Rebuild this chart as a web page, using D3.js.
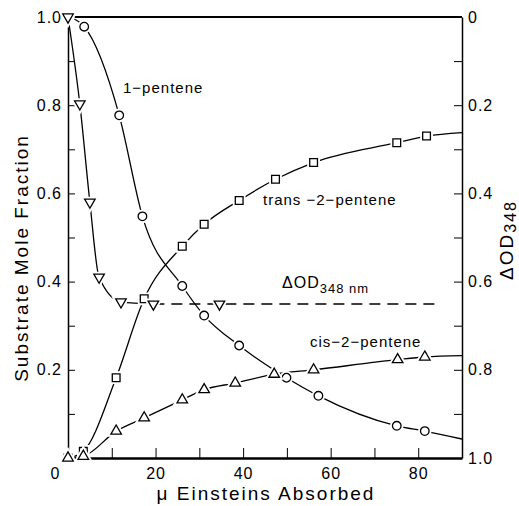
<!DOCTYPE html>
<html>
<head>
<meta charset="utf-8">
<script src="https://cdn.jsdelivr.net/npm/d3@7"></script>
<style>
  body { margin: 0; background: #fff; }
  svg { display: block; font-family: "Liberation Sans", Arial, sans-serif; }
  .axis path, .axis line { stroke: #000; }
  .axis text { font-size: 16px; fill: #000; letter-spacing: 1px; }
</style>
</head>
<body>
<svg id="chart" width="519" height="506"></svg>
<script>
// values (x = μ Einsteins absorbed)
const pentene1X = [0, 3.7, 11.7, 17.0, 26.1, 31.1, 39.1, 49.9, 57.2, 75.1, 81.5]
const pentene1Y = [1.0, 0.978, 0.777, 0.548, 0.39, 0.323, 0.255, 0.182, 0.141, 0.073, 0.061]
const pentene1End = [90, 0.043]

const transX = [0, 3.5, 11.0, 17.4, 26.1, 31.1, 39.1, 47.4, 56.1, 75.1, 81.9]
const transY = [0, 0.015, 0.182, 0.361, 0.48, 0.53, 0.584, 0.632, 0.67, 0.715, 0.73]
const transEnd = [90, 0.738]

const cisX = [0, 3.5, 11.0, 17.4, 26.1, 31.1, 38.2, 47.1, 56.1, 75.3, 81.5]
const cisY = [0, 0.004, 0.061, 0.091, 0.132, 0.155, 0.17, 0.19, 0.2, 0.223, 0.229]
const cisEnd = [90, 0.232]

// ΔOD348 on the right (inverted) axis
const odX = [0, 2.7, 5.0, 7.1, 12.1, 19.5, 34.6]
const odY = [0, 0.197, 0.42, 0.59, 0.646, 0.651, 0.651]
const odDashEnd = [84.5, 0.651]

const xTicks = [0, 10, 20, 30, 40, 50, 60, 70, 80, 90]
const yTicks = [0.1, 0.2, 0.3, 0.4, 0.5, 0.6, 0.7, 0.8, 0.9, 1.0]
const rTicks = [0, 0.1, 0.2, 0.3, 0.4, 0.5, 0.6, 0.7, 0.8, 0.9, 1.0]

const svg = d3.select('#chart')

let x = d3.scaleLinear().domain([0, 90]).range([68, 462])
let y = d3.scaleLinear().domain([0, 1]).range([458, 17])
let yR = d3.scaleLinear().domain([0, 1]).range([17, 458])

// axes, ticks pointing inward
let left = svg.append('g').attr('class', 'axis')
  .attr('transform', 'translate(68,0)')
  .call(d3.axisLeft(y).tickValues(yTicks).tickSizeInner(-7).tickSizeOuter(0).tickPadding(6)
    .tickFormat(d => (Math.round(d * 10) % 2 === 0) ? d.toFixed(1) : ''))
left.select('.domain').attr('stroke-width', 1.5)

let right = svg.append('g').attr('class', 'axis')
  .attr('transform', 'translate(462,0)')
  .call(d3.axisRight(yR).tickValues(rTicks).tickSizeInner(-8).tickSizeOuter(0).tickPadding(6)
    .tickFormat(d => (Math.round(d * 10) % 2 === 0) ? (d === 0 ? '0' : d.toFixed(1)) : ''))
right.select('.domain').attr('stroke-width', 1.5)

let bottom = svg.append('g').attr('class', 'axis')
  .attr('transform', 'translate(0,458)')
  .call(d3.axisBottom(x).tickValues(xTicks).tickSizeInner(-10).tickSizeOuter(0).tickPadding(10)
    .tickFormat(d => (d % 20 === 0 && d < 90) ? d : ''))
bottom.select('.domain').attr('stroke-width', 2.5)
bottom.selectAll('.tick').filter(d => d === 0).select('text').attr('dx', -13)

// top frame line
svg.append('line')
  .attr('x1', x(0)).attr('x2', x(90))
  .attr('y1', y(1)).attr('y2', y(1))
  .attr('stroke', '#000').attr('stroke-width', 2)

// curves
let lineY = d3.line().x(d => x(d[0])).y(d => y(d[1])).curve(d3.curveMonotoneX)
let lineR = d3.line().x(d => x(d[0])).y(d => yR(d[1])).curve(d3.curveMonotoneX)

let zip = (xs, ys) => xs.map((v, i) => [v, ys[i]])

let curves = [
  zip(pentene1X, pentene1Y).concat([pentene1End]),
  zip(transX, transY).concat([transEnd]),
  zip(cisX, cisY).concat([cisEnd])
]
svg.selectAll('path.curve')
  .data(curves)
  .join('path')
  .attr('class', 'curve')
  .attr('d', lineY)
  .attr('fill', 'none')
  .attr('stroke', '#000')
  .attr('stroke-width', 1.3)

// ΔOD: solid part then dashed plateau
let odPts = zip(odX, odY)
svg.append('path')
  .attr('d', lineR(odPts.slice(0, 6)))
  .attr('fill', 'none').attr('stroke', '#000').attr('stroke-width', 1.3)
svg.append('path')
  .attr('d', lineR([odPts[5], odDashEnd]))
  .attr('fill', 'none').attr('stroke', '#000').attr('stroke-width', 1.5)
  .attr('stroke-dasharray', '11,7')

// markers with white halo so lines stop short of them
function markers (pts, scale, sym, size, rot) {
  let g = svg.append('g')
  let shape = d3.symbol().type(sym).size(size)
  g.selectAll('path.halo')
    .data(pts)
    .join('path')
    .attr('class', 'halo')
    .attr('d', shape)
    .attr('transform', d => `translate(${x(d[0])},${scale(d[1])}) rotate(${rot})`)
    .attr('fill', '#fff').attr('stroke', '#fff').attr('stroke-width', 5)
  g.selectAll('path.mark')
    .data(pts)
    .join('path')
    .attr('class', 'mark')
    .attr('d', shape)
    .attr('transform', d => `translate(${x(d[0])},${scale(d[1])}) rotate(${rot})`)
    .attr('fill', '#fff').attr('stroke', '#000').attr('stroke-width', 1.3)
}

markers(zip(pentene1X, pentene1Y), y, d3.symbolCircle, 58, 0)
markers(zip(transX, transY), y, d3.symbolSquare, 60, 0)
markers(zip(cisX, cisY), y, d3.symbolTriangle, 48, 0)
markers(odPts, yR, d3.symbolTriangle, 48, 180)

// curve labels
let lab = (t, px, py) => svg.append('text')
  .attr('x', px).attr('y', py)
  .attr('font-size', 15).attr('letter-spacing', 1)
  .text(t)
lab('1\u2212pentene', 123, 93)
lab('trans \u22122\u2212pentene', 263, 205)
lab('cis\u22122\u2212pentene', 310, 347)

let od = svg.append('text').attr('x', 282).attr('y', 288)
  .attr('font-size', 16).attr('letter-spacing', 1)
od.append('tspan').text('\u0394OD')
od.append('tspan').attr('dy', 5).attr('font-size', 13).text('348 nm')

// axis titles
svg.append('text')
  .attr('transform', 'translate(28,258) rotate(-90)')
  .attr('text-anchor', 'middle')
  .attr('font-size', 19).attr('letter-spacing', 2)
  .text('Substrate Mole Fraction')

let rt = svg.append('text')
  .attr('transform', 'translate(513,240) rotate(-90)')
  .attr('text-anchor', 'middle')
  .attr('font-size', 19).attr('letter-spacing', 2)
rt.append('tspan').text('\u0394OD')
rt.append('tspan').attr('dy', 3).attr('font-size', 16).text('348')

svg.append('text')
  .attr('x', 266).attr('y', 500)
  .attr('text-anchor', 'middle')
  .attr('font-size', 19).attr('letter-spacing', 2)
  .text('\u03bc Einsteins Absorbed')
</script>
</body>
</html>
